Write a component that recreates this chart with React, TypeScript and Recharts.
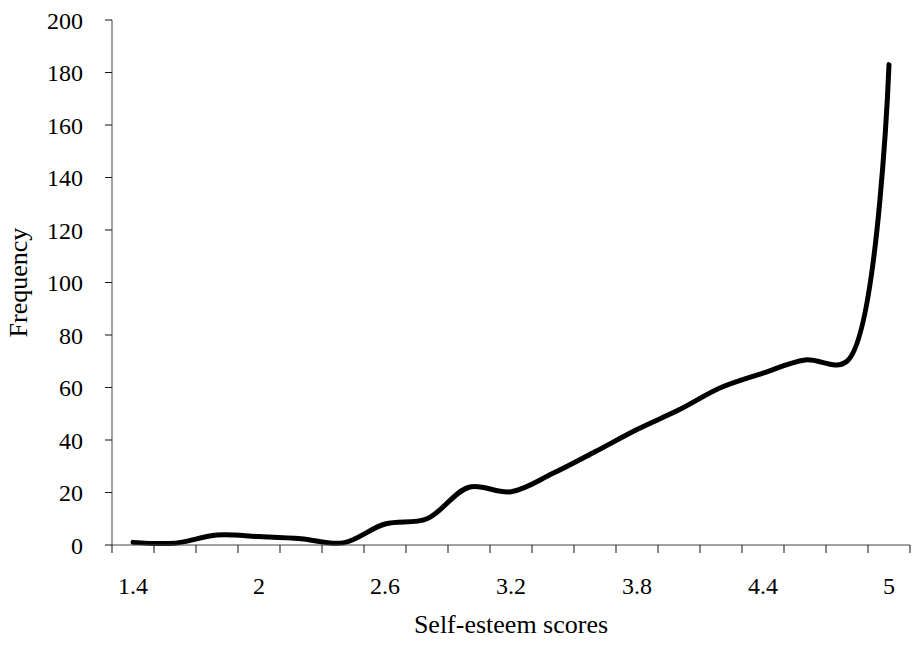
import { LineChart, Line, XAxis, YAxis, Label } from "recharts";

// self-esteem score categories (x) and their frequencies (y)
const scores = [1.4, 1.6, 1.8, 2.0, 2.2, 2.4, 2.6, 2.8, 3.0, 3.2, 3.4, 3.6, 3.8, 4.0, 4.2, 4.4, 4.6, 4.8, 5.0];
const frequencies = [1, 0.7, 3.8, 3.2, 2.4, 0.8, 8, 10, 22, 20.3, 27.3, 35.5, 44, 51.5, 60, 65.5, 70.5, 70, 183];

// labelled score ticks and the tick marks that sit between categories
const scoreLabels = [1.4, 2, 2.6, 3.2, 3.8, 4.4, 5];
const scoreBoundaries = [1.3, 1.5, 1.7, 1.9, 2.1, 2.3, 2.5, 2.7, 2.9, 3.1, 3.3, 3.5, 3.7, 3.9, 4.1, 4.3, 4.5, 4.7, 4.9, 5.1];
const frequencyTicks = [0, 20, 40, 60, 80, 100, 120, 140, 160, 180, 200];

const data = scores.map((s, i) => ({ score: s, freq: frequencies[i] }));

const FONT = '"Liberation Serif", "Times New Roman", serif';

// centripetal catmull-rom curve (same maths as d3.curveCatmullRom, alpha 0.5)
function catmullRom(context: any) {
  const alpha = 0.5;
  const eps = 1e-12;
  const s: any = {};
  const bez = (x: number, y: number) => {
    let x1 = s.x1, y1 = s.y1, x2 = s.x2, y2 = s.y2;
    if (s.l01a > eps) {
      const a = 2 * s.l01_2a + 3 * s.l01a * s.l12a + s.l12_2a;
      const n = 3 * s.l01a * (s.l01a + s.l12a);
      x1 = (x1 * a - s.x0 * s.l12_2a + s.x2 * s.l01_2a) / n;
      y1 = (y1 * a - s.y0 * s.l12_2a + s.y2 * s.l01_2a) / n;
    }
    if (s.l23a > eps) {
      const b = 2 * s.l23_2a + 3 * s.l23a * s.l12a + s.l12_2a;
      const m = 3 * s.l23a * (s.l23a + s.l12a);
      x2 = (x2 * b + s.x1 * s.l23_2a - x * s.l12_2a) / m;
      y2 = (y2 * b + s.y1 * s.l23_2a - y * s.l12_2a) / m;
    }
    context.bezierCurveTo(x1, y1, x2, y2, s.x2, s.y2);
  };
  const curve = {
    areaStart() { s.line = 0; },
    areaEnd() { s.line = NaN; },
    lineStart() {
      s.x0 = s.x1 = s.x2 = s.y0 = s.y1 = s.y2 = NaN;
      s.l01a = s.l12a = s.l23a = s.l01_2a = s.l12_2a = s.l23_2a = 0;
      s.point = 0;
    },
    lineEnd() {
      if (s.point === 2) context.lineTo(s.x2, s.y2);
      else if (s.point === 3) curve.point(s.x2, s.y2);
      if (s.line || (s.line !== 0 && s.point === 1)) context.closePath();
      s.line = 1 - s.line;
    },
    point(x: number, y: number) {
      x = +x; y = +y;
      if (s.point) {
        const dx = s.x2 - x, dy = s.y2 - y;
        s.l23_2a = Math.pow(dx * dx + dy * dy, alpha);
        s.l23a = Math.sqrt(s.l23_2a);
      }
      if (s.point === 0) {
        s.point = 1;
        if (s.line) context.lineTo(x, y); else context.moveTo(x, y);
      } else if (s.point === 1) {
        s.point = 2;
      } else {
        s.point = 3;
        bez(x, y);
      }
      s.l01a = s.l12a; s.l12a = s.l23a;
      s.l01_2a = s.l12_2a; s.l12_2a = s.l23_2a;
      s.x0 = s.x1; s.x1 = s.x2; s.x2 = x;
      s.y0 = s.y1; s.y1 = s.y2; s.y2 = y;
    },
  };
  s.line = NaN;
  return curve;
}

function ScoreTick(props: any) {
  const { x, y, payload } = props;
  const v = payload.value;
  if (scoreBoundaries.includes(v)) {
    return <line x1={x} y1={y} x2={x} y2={y + 8} stroke="#111" strokeWidth={1} />;
  }
  if (scoreLabels.includes(v)) {
    return (
      <text x={x} y={y + 49} textAnchor="middle" fontFamily={FONT} fontSize={24} fill="#000">
        {String(v)}
      </text>
    );
  }
  return null;
}

export default function App() {
  return (
    <div style={{ position: "absolute", left: 0, top: 0, width: 912, height: 645, background: "#fff" }}>
      <LineChart width={912} height={645} data={data} margin={{ top: 20, right: 2, left: 0, bottom: 0 }}>
        <XAxis
          dataKey="score"
          type="number"
          domain={[1.3, 5.1]}
          allowDataOverflow
          ticks={[...scoreBoundaries, ...scoreLabels]}
          interval={0}
          tickSize={0}
          tickMargin={0}
          tickLine={false}
          tick={<ScoreTick />}
          height={100}
          axisLine={{ stroke: "#444", strokeWidth: 1 }}
        >
          <Label
            content={(p: any) => {
              const vb = p.viewBox;
              return (
                <text x={vb.x + vb.width / 2} y={vb.y + 88} textAnchor="middle" fontFamily={FONT} fontSize={26} fill="#000">
                  Self-esteem scores
                </text>
              );
            }}
          />
        </XAxis>
        <YAxis
          type="number"
          domain={[0, 200]}
          ticks={frequencyTicks}
          interval={0}
          width={112}
          tickSize={7}
          tickMargin={22}
          tickLine={{ stroke: "#111" }}
          axisLine={{ stroke: "#444", strokeWidth: 1 }}
          tick={{ fontFamily: FONT, fontSize: 24, fill: "#000" }}
        >
          <Label
            content={(p: any) => {
              const vb = p.viewBox;
              const cx = vb.x + 27;
              const cy = vb.y + vb.height / 2;
              return (
                <text x={cx} y={cy} transform={`rotate(-90, ${cx}, ${cy})`} textAnchor="middle" fontFamily={FONT} fontSize={26} fill="#000">
                  Frequency
                </text>
              );
            }}
          />
        </YAxis>
        <Line
          dataKey="freq"
          type={catmullRom as any}
          stroke="#000"
          strokeWidth={5}
          strokeLinecap="round"
          strokeLinejoin="round"
          dot={false}
          activeDot={false}
          isAnimationActive={false}
        />
      </LineChart>
    </div>
  );
}
